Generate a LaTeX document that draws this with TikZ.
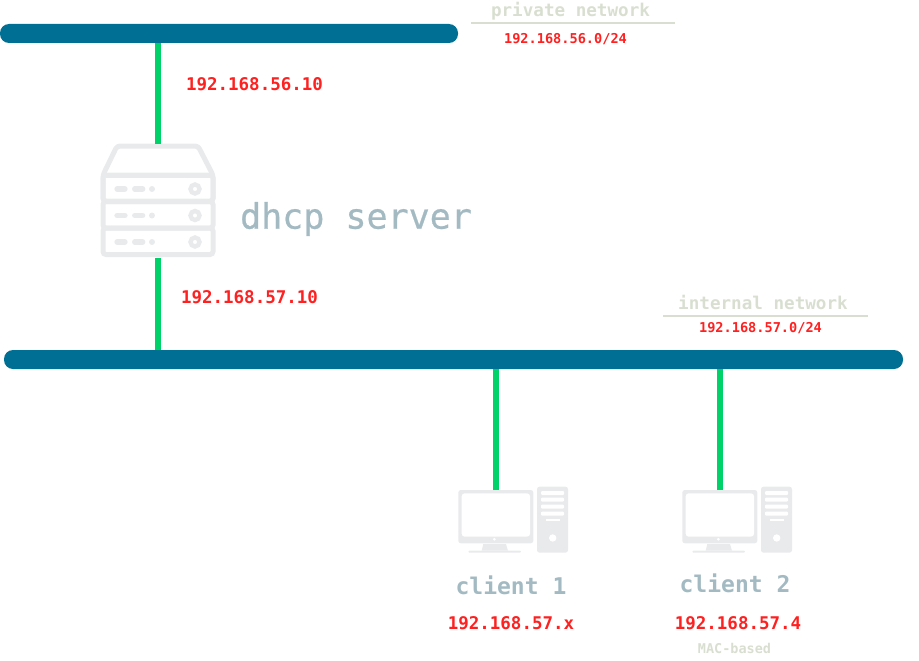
\documentclass[tikz,border=0pt]{standalone}
\usepackage{fontspec}
\setmonofont{DejaVu Sans Mono}
\newfontfamily\servermono[FakeBold=0.6]{DejaVu Sans Mono}
\usepackage{xcolor}
\usetikzlibrary{arrows.meta, positioning, calc}
\definecolor{netblue}{HTML}{006F94}
\definecolor{linkgreen}{HTML}{00D26A}
\definecolor{addrred}{HTML}{FF2020}
\definecolor{hostgray}{HTML}{A3BAC3}
\definecolor{netgray}{HTML}{D8DFD0}
\definecolor{icongray}{HTML}{E9EAEC}
\newcommand{\monosize}[1]{\fontsize{#1}{#1}\selectfont\ttfamily}
\tikzset{
  busbar/.style={fill=netblue, rounded corners=9pt, inner sep=0pt, minimum height=19pt},
  iconbox/.style={inner sep=0pt},
  linkline/.style={linkgreen, line width=5.5pt},
  netrule/.style={netgray, line width=2pt},
  addrlabel/.style={addrred, font=\monosize{17.5}\bfseries},
  netaddr/.style={addrred, font=\monosize{13.6}\bfseries},
  netname/.style={netgray, font=\monosize{17.6}\bfseries},
  hostname/.style={hostgray, font=\monosize{23}\bfseries},
  pics/servericon/.style={code={
    % origin at the middle of the icon
    \draw[icongray, line width=5pt, line join=round, rounded corners=3pt]
      (-41,-55) -- (40,-55) -- (55,-26) -- (55,0) -- (-55,0) -- (-55,-26) -- cycle;
    \draw[icongray, line width=5pt] (-55,-26) -- (55,-26);
    \foreach \ytop in {-26,0.5,27} {
      \draw[icongray, line width=5pt, rounded corners=3pt]
        (-55,\ytop) rectangle (55,\ytop+26.5);
      \draw[icongray, line width=5.3pt, line cap=round]
        (-41,\ytop+14) -- (-33,\ytop+14) (-23.3,\ytop+14) -- (-15.3,\ytop+14);
      \fill[icongray] (-6,\ytop+14) circle (3);
      \draw[icongray, line width=4.4pt] (37,\ytop+14) circle (4.5);
    }
  }},
  pics/clienticon/.style={code={
    % origin at the top of the link
    \fill[icongray, rounded corners=2.5pt] (-37.7,0) rectangle (37.3,53.3);
    \fill[white, rounded corners=3pt] (-34.3,3.3) rectangle (34,46.7);
    \fill[white] (-1.7,49.3) circle (1.5);
    \fill[icongray] (-12.7,54) -- (10,54) -- (12,60.7) -- (-14.3,60.7) -- cycle;
    \fill[icongray, rounded corners=1pt] (-27.7,60.7) rectangle (25,62.7);
    \fill[icongray, rounded corners=2.5pt] (41,-3.3) rectangle (72,62.7);
    \foreach \ybar in {1,7.7,14.7,21.7}
      \fill[white, rounded corners=1pt] (45,\ybar) rectangle (68,\ybar+4);
    \fill[white] (50,29.3) rectangle (63.7,31);
    \fill[white] (56.7,48) circle (3.7);
  }}
}
\begin{document}
\begin{tikzpicture}[x=1pt, y=-1pt]
  \useasboundingbox (0,0) rectangle (919,661);

  % Networks
  \node[busbar, minimum width=458pt] (privatebus) at (229,33.5) {};
  \node[busbar, minimum width=899pt] (internalbus) at (453.5,359.5) {};
  \node[netname] (privatename) at (570.5,11) {private network};
  \node[netaddr] (privateaddr) at (565.5,39.5) {192.168.56.0/24};
  \node[netname] (internalname) at (763,302.5) {internal network};
  \node[netaddr] (internaladdr) at (760.5,328.5) {192.168.57.0/24};
  \coordinate (privateruleL) at (471,23.5);
  \coordinate (privateruleR) at (675,23.5);
  \coordinate (internalruleL) at (663,316);
  \coordinate (internalruleR) at (868,316);
  \draw[netrule] (privateruleL) -- (privateruleR);
  \draw[netrule] (internalruleL) -- (internalruleR);

  % Server
  \node[iconbox, minimum width=114pt, minimum height=114pt] (server) at (158,201) {};
  \pic at (server.center) {servericon};
  \node[font=\fontsize{35}{35}\selectfont\servermono, hostgray] (servername) at (356,219) {dhcp server};
  \node[addrlabel] (serverupper) at (254.5,84) {192.168.56.10};
  \node[addrlabel] (serverlower) at (249.5,297) {192.168.57.10};
  \draw[linkline] (server.north) -- (server.north |- privatebus.south);
  \draw[linkline] (server.south) -- (server.south |- internalbus.north);

  % Clients
  \node[iconbox, minimum width=5pt, minimum height=1pt] (clientone) at (496,490) {};
  \node[iconbox, minimum width=5pt, minimum height=1pt] (clienttwo) at (720,490) {};
  \pic at (clientone.center) {clienticon};
  \pic at (clienttwo.center) {clienticon};
  \draw[linkline] (clientone.center) -- (clientone.center |- internalbus.south);
  \draw[linkline] (clienttwo.center) -- (clienttwo.center |- internalbus.south);
  \node[hostname] (clientonename) at (511,585) {client 1};
  \node[hostname] (clienttwoname) at (735,583) {client 2};
  \node[addrlabel] (clientoneaddr) at (511,623) {192.168.57.x};
  \node[addrlabel] (clienttwoaddr) at (738,623) {192.168.57.4};
  \node[netgray, font=\monosize{13.5}\bfseries] (clienttwonote) at (734.5,648) {MAC-based};
\end{tikzpicture}
\end{document}
